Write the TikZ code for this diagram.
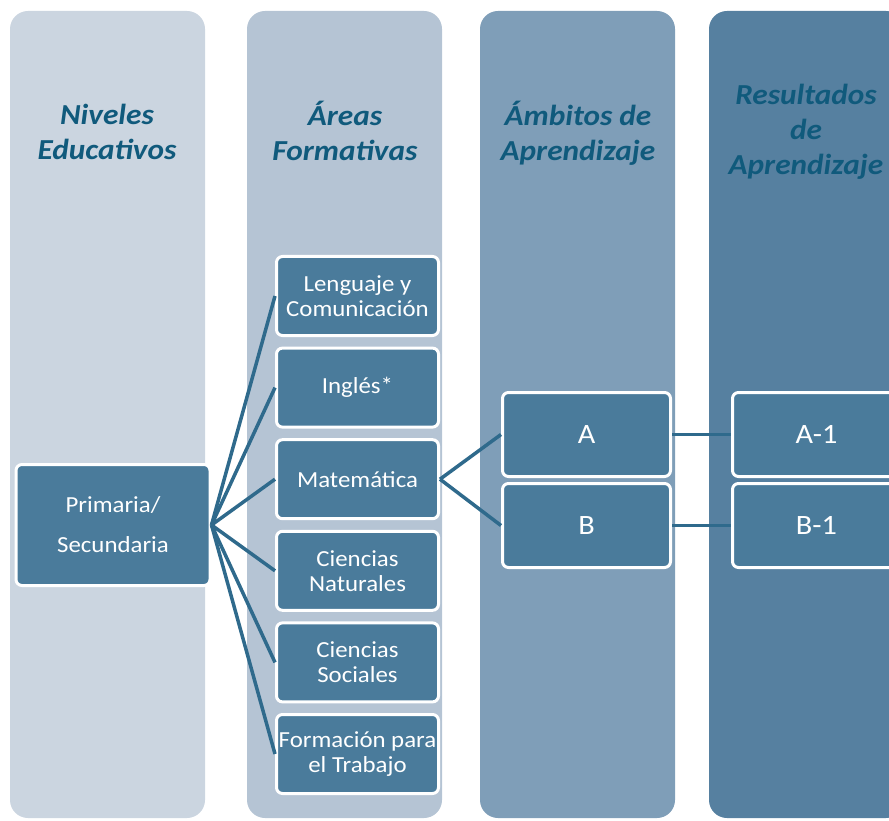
\documentclass[tikz,border=0pt]{standalone}
\usepackage{fontspec}
\setmainfont[FakeStretch=1.08]{Carlito}
\definecolor{colA}{HTML}{CBD5E0}
\definecolor{colB}{HTML}{B5C4D4}
\definecolor{colC}{HTML}{7F9EB8}
\definecolor{colD}{HTML}{5680A0}
\definecolor{boxfill}{HTML}{4A7B9B}
\definecolor{titletxt}{HTML}{105A7C}
\definecolor{linkline}{HTML}{2F6A8C}
\tikzset{
  column/.style={rounded corners=18pt},
  title/.style={font=\fontsize{29}{35}\selectfont\bfseries\itshape, text=titletxt, align=center},
  item/.style={draw=white, line width=3pt, fill=boxfill, rounded corners=6pt,
    text=white, align=center, inner sep=0pt, font=\fontsize{23}{25}\selectfont},
  bigitem/.style={item, minimum width=168pt, minimum height=84pt, font=\fontsize{28}{30}\selectfont},
  link/.style={draw=linkline, line width=3.5pt}
}
\begin{document}
\begin{tikzpicture}[x=1pt,y=-1pt]
    \useasboundingbox (0,0) rectangle (889,821);
    \clip (0,0) rectangle (889,821);
    \fill[column,colA] (10,11) rectangle (205,818);
    \fill[column,colB] (247,11) rectangle (442,818);
    \fill[column,colC] (480,11) rectangle (675,818);
    \fill[column,colD] (709,11) rectangle (904,818);
    \node[title] (tniv) at (107,132) {Niveles\\Educativos};
    \node[title] (tare) at (345,131) {Áreas\\Formativas};
    \node[title] (tamb) at (578,133) {Ámbitos de\\Aprendizaje};
    \node[title] (tres) at (806,132) {Resultados\\de\\Aprendizaje};
    \node[item, minimum width=194pt, minimum height=121pt,
      font=\fontsize{23}{40}\selectfont] (prim) at (113,525) {Primaria/\\Secundaria};
    \foreach \name/\txt [count=\i from 0] in
      {len/Lenguaje y\\Comunicación, ing/Inglés*, mat/Matemática,
       cnat/Ciencias\\Naturales, csoc/Ciencias\\Sociales, ftra/Formación para\\el Trabajo}
    {
      \node[item, minimum width=162pt, minimum height=79pt] (\name) at (357.5,296+91.6*\i) {\txt};
      \draw[link] (prim.east) -- (\name.west);
    }
    \node[bigitem] (amba) at (586.5,434.5) {A};
    \node[bigitem] (ambb) at (586.5,525.5) {B};
    \node[bigitem] (resa) at (816.5,434.5) {A-1};
    \node[bigitem] (resb) at (816.5,525.5) {B-1};
    \draw[link] (mat.east) -- (amba.west);
    \draw[link] (mat.east) -- (ambb.west);
    \draw[link] (amba.east) -- (resa.west);
    \draw[link] (ambb.east) -- (resb.west);
\end{tikzpicture}
\end{document}
